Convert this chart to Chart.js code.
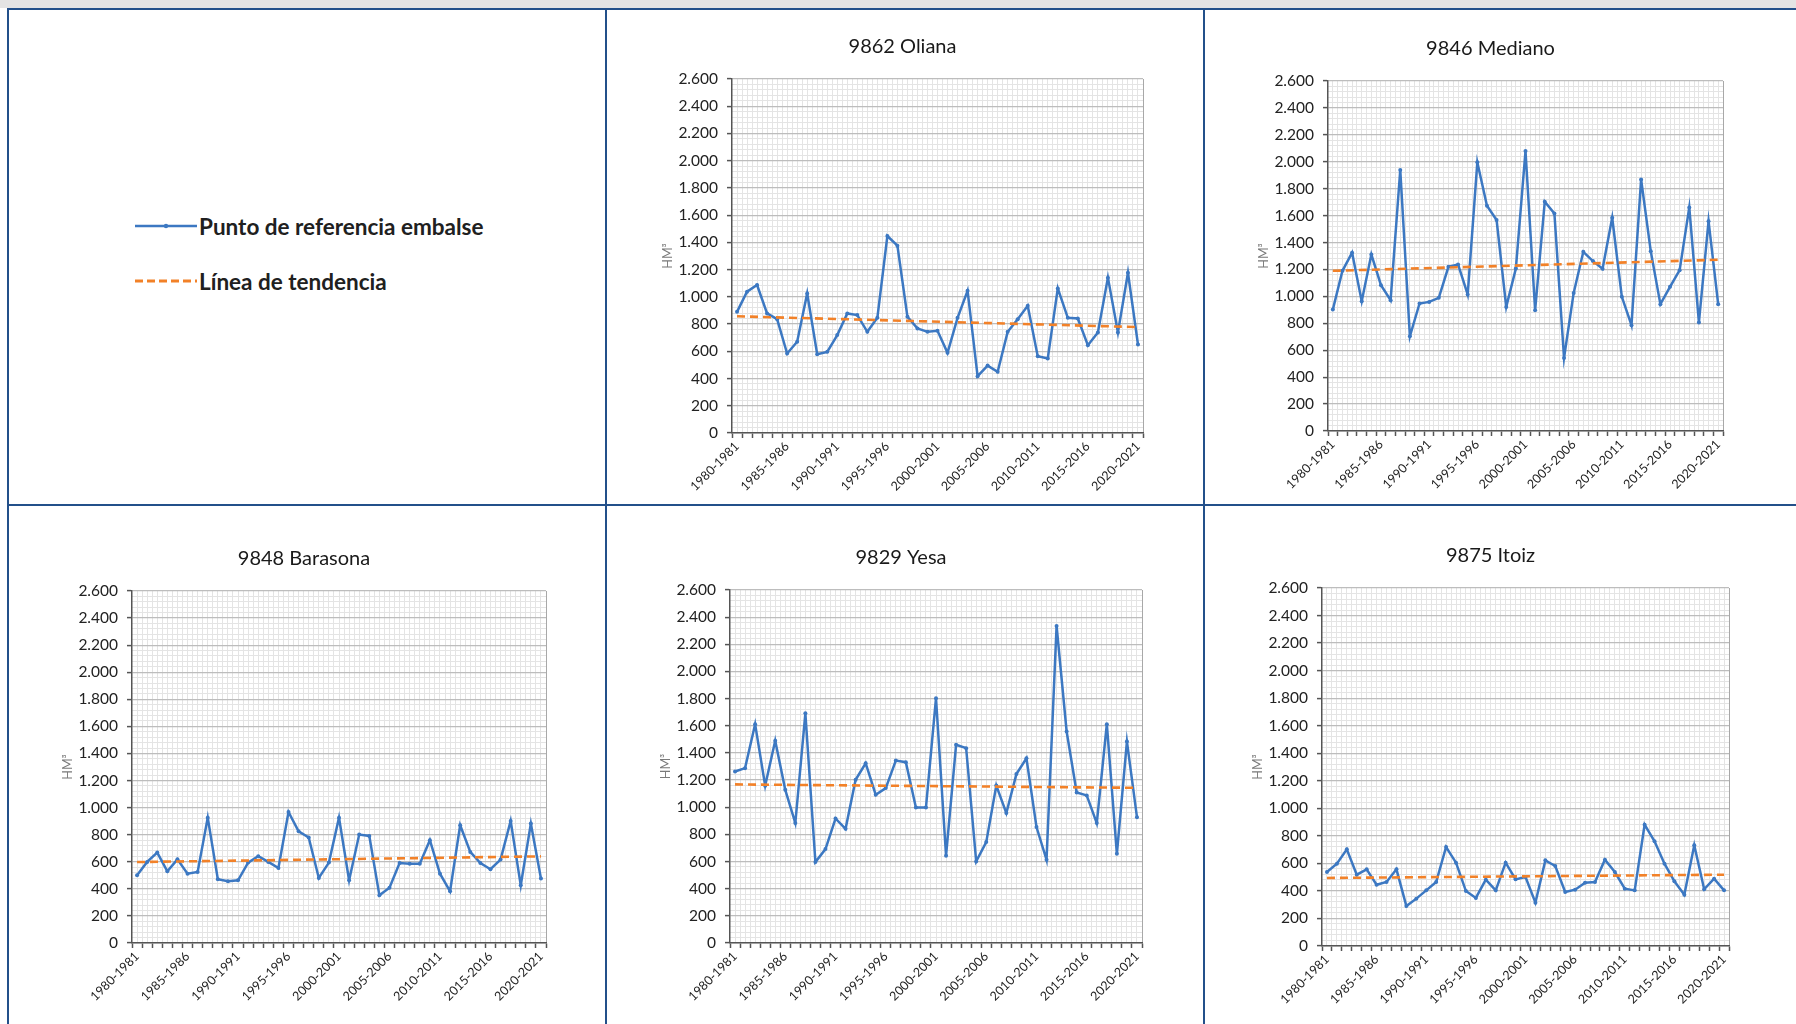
<!DOCTYPE html>
<html lang="es">
<head>
<meta charset="utf-8">
<title>Aportaciones embalses</title>
<script src="https://cdn.jsdelivr.net/npm/chart.js@4"></script>
<style>
  html, body { margin: 0; padding: 0; background: #fff; }
  body { width: 1796px; height: 1024px; position: relative; overflow: hidden; font-family: Lato, "Open Sans", sans-serif; }
  .band { position: absolute; left: 0; top: 0; width: 1796px; height: 8px; background: #e4e4e4; }
  .rule { position: absolute; background: #23508a; z-index: 5; }
  canvas.chart { position: absolute; }
  .legend { position: absolute; left: 135px; top: 211px; }
  .legend .item { display: flex; align-items: center; height: 30px; margin-bottom: 25px; }
  .legend svg { width: 62px; height: 12px; margin-right: 2px; }
  .legend span { font-weight: 700; font-size: 22.5px; color: #202020; letter-spacing: 0; }
</style>
</head>
<body>
<div class="band"></div>
<div class="rule" style="left:7px;top:8px;width:1789px;height:2px"></div>
<div class="rule" style="left:7px;top:8px;width:2px;height:1016px"></div>
<div class="rule" style="left:605px;top:8px;width:2px;height:1016px"></div>
<div class="rule" style="left:1203px;top:8px;width:2px;height:1016px"></div>
<div class="rule" style="left:7px;top:504px;width:1789px;height:2px"></div>

<div class="legend">
  <div class="item">
    <svg viewBox="0 0 62 12"><line x1="0" y1="6" x2="62" y2="6" stroke="#3c78c2" stroke-width="2.5"/><circle cx="31" cy="6" r="2.2" fill="#3c78c2"/></svg>
    <span>Punto de referencia embalse</span>
  </div>
  <div class="item">
    <svg viewBox="0 0 62 12"><line x1="0" y1="6" x2="62" y2="6" stroke="#f28128" stroke-width="3" stroke-dasharray="8,4"/></svg>
    <span>Línea de tendencia</span>
  </div>
</div>

<canvas class="chart" id="oliana"></canvas>
<canvas class="chart" id="mediano"></canvas>
<canvas class="chart" id="barasona"></canvas>
<canvas class="chart" id="yesa"></canvas>
<canvas class="chart" id="itoiz"></canvas>

<script>
const $ = (id) => document.getElementById(id);

// hydrological years on the x axis
const seasons = [
  "1980-1981", "1981-1982", "1982-1983", "1983-1984", "1984-1985", "1985-1986", "1986-1987",
  "1987-1988", "1988-1989", "1989-1990", "1990-1991", "1991-1992", "1992-1993", "1993-1994",
  "1994-1995", "1995-1996", "1996-1997", "1997-1998", "1998-1999", "1999-2000", "2000-2001",
  "2001-2002", "2002-2003", "2003-2004", "2004-2005", "2005-2006", "2006-2007", "2007-2008",
  "2008-2009", "2009-2010", "2010-2011", "2011-2012", "2012-2013", "2013-2014", "2014-2015",
  "2015-2016", "2016-2017", "2017-2018", "2018-2019", "2019-2020", "2020-2021",
];
const shownSeasons = ["1980-1981", "1985-1986", "1990-1991", "1995-1996", "2000-2001", "2005-2006", "2010-2011", "2015-2016", "2020-2021"];

// HM3 per year
const oliana = [890, 1038, 1087, 878, 836, 584, 670, 1025, 579, 596, 719, 878, 866, 743, 846, 1447, 1376, 854, 768, 743, 751,
  589, 846, 1045, 417, 495, 449, 743, 836, 935, 564, 547, 1062, 846, 841, 645, 738, 1141, 738, 1177, 650];
const mediano = [902, 1190, 1324, 964, 1311, 1083, 972, 1939, 704, 947, 959, 989, 1220, 1237, 1014, 1996, 1673, 1567, 922, 1207, 2080,
  897, 1703, 1616, 543, 1026, 1331, 1262, 1205, 1584, 997, 786, 1869, 1336, 942, 1071, 1195, 1661, 806, 1559, 942];
const barasona = [500, 599, 668, 530, 618, 512, 525, 926, 471, 456, 463, 594, 641, 599, 554, 968, 825, 779, 480, 594, 926,
  463, 801, 791, 352, 409, 591, 586, 586, 759, 512, 382, 870, 673, 591, 545, 616, 902, 426, 882, 476];
const yesa = [1263, 1288, 1612, 1158, 1489, 1128, 883, 1692, 596, 692, 917, 841, 1202, 1324, 1092, 1141, 1344, 1332, 998, 998, 1803,
  643, 1460, 1435, 601, 743, 1160, 957, 1244, 1361, 854, 613, 2335, 1558, 1109, 1087, 883, 1612, 657, 1484, 927];
const itoiz = [537, 598, 702, 518, 557, 445, 465, 557, 290, 344, 404, 465, 719, 605, 399, 349, 482, 404, 605, 484, 501,
  315, 622, 581, 392, 409, 460, 465, 627, 537, 416, 404, 881, 760, 598, 470, 373, 731, 412, 489, 404];

// trend line ends [first season, last season]
const olianaTrend = [857, 778];
const medianoTrend = [1190, 1272];
const barasonaTrend = [598, 640];
const yesaTrend = [1168, 1143];
const itoizTrend = [494, 518];

const yTicksMax = 2600;
const yTickStep = 200;

// where each plot area sits on the page: [left, top, right, bottom], and the title centre x
const charts = [
  { id: "oliana", title: "9862 Oliana", values: oliana, trend: olianaTrend, plot: [732, 79, 1143, 433], titleX: 907 },
  { id: "mediano", title: "9846 Mediano", values: mediano, trend: medianoTrend, plot: [1328, 81, 1723, 431], titleX: 1507 },
  { id: "barasona", title: "9848 Barasona", values: barasona, trend: barasonaTrend, plot: [132, 591, 546, 943], titleX: 320 },
  { id: "yesa", title: "9829 Yesa", values: yesa, trend: yesaTrend, plot: [730, 590, 1142, 943], titleX: 907 },
  { id: "itoiz", title: "9875 Itoiz", values: itoiz, trend: itoizTrend, plot: [1322, 588, 1729, 946], titleX: 1497 },
];

const AXIS_W = 70;
const TOP_H = 60;
const BOTTOM_H = 70;
const BLUE = "#3c78c2";
const ORANGE = "#f28128";
const AXIS = "#555555";

Chart.defaults.font.family = 'Lato, "Open Sans", sans-serif';
Chart.defaults.color = "#222222";

function fmtThousands(v) {
  return String(v).replace(/\B(?=(\d{3})+(?!\d))/g, ".");
}

function buildChart(c) {
  const [pl, pt, pr, pb] = c.plot;
  const cv = $(c.id);
  const left = pl - AXIS_W;
  const top = pt - TOP_H;
  const width = Math.round(2 * (c.titleX - left));
  const height = TOP_H + (pb - pt) + BOTTOM_H + 2;
  cv.width = width;
  cv.height = height;
  cv.style.left = left + "px";
  cv.style.top = top + "px";
  const padRight = width - AXIS_W - (pr - pl);
  const last = seasons.length - 1;

  return new Chart(cv, {
    type: "line",
    data: {
      labels: seasons,
      datasets: [
        {
          label: "Línea de tendencia",
          data: [{ x: seasons[0], y: c.trend[0] }, { x: seasons[last], y: c.trend[1] }],
          borderColor: ORANGE,
          backgroundColor: ORANGE,
          borderWidth: 2.6,
          borderDash: [8, 5],
          pointRadius: 0,
          order: 0,
          xAxisID: "x",
          yAxisID: "y",
        },
        {
          label: "Punto de referencia embalse",
          data: c.values,
          borderColor: BLUE,
          backgroundColor: BLUE,
          borderWidth: 2.5,
          pointRadius: 2,
          pointBorderWidth: 0,
          tension: 0,
          order: 1,
          xAxisID: "x",
          yAxisID: "y",
        },
      ],
    },
    options: {
      responsive: false,
      animation: false,
      devicePixelRatio: 1,
      layout: { padding: { left: 0, top: 0, right: padRight, bottom: 2 } },
      plugins: {
        legend: { display: false },
        tooltip: { enabled: false },
        title: {
          display: true,
          text: c.title,
          color: "#1a1a1a",
          font: { size: 20, weight: "normal", lineHeight: 1.2 },
          padding: { top: 15.5, bottom: 20.5 },
        },
      },
      scales: {
        x: {
          type: "category",
          offset: true,
          grid: { offset: true, drawOnChartArea: false, drawTicks: true, tickLength: 5, tickColor: AXIS, tickWidth: 1.5 },
          border: { color: AXIS, width: 1.5 },
          ticks: {
            autoSkip: false,
            maxRotation: 45,
            minRotation: 45,
            padding: 1,
            color: "#222222",
            font: { size: 12.5 },
            callback: (v, i) => (shownSeasons.includes(seasons[i]) ? seasons[i] : ""),
          },
          afterFit: (s) => { s.height = BOTTOM_H; },
        },
        xg: {
          type: "linear",
          position: "bottom",
          min: -0.5,
          max: last + 0.5,
          ticks: { display: false, stepSize: 0.5 },
          border: { display: false },
          grid: {
            z: -1,
            drawTicks: false,
            lineWidth: 1,
            color: (ctx) => {
              const v = ctx.tick ? ctx.tick.value : 0;
              if (v <= -0.5) return "rgba(0,0,0,0)";
              if (v >= last + 0.5) return "#a8a8a8";
              return "#e4e4e4";
            },
          },
        },
        y: {
          min: 0,
          max: yTicksMax,
          ticks: { stepSize: yTickStep, padding: 9, color: "#222222", font: { size: 15.5 }, callback: (v) => fmtThousands(v) },
          grid: { color: "#bdbdbd", lineWidth: 1.2, tickLength: 5, tickColor: AXIS, tickWidth: 1.5 },
          border: { color: AXIS, width: 1.5 },
          title: { display: true, text: "HM³", color: "#7a7a7a", font: { size: 12.5, lineHeight: 1 }, padding: { top: 0, bottom: 0 } },
          afterFit: (s) => { s.width = AXIS_W; },
        },
        yg: {
          type: "linear",
          position: "left",
          min: 0,
          max: yTicksMax,
          ticks: { display: false, stepSize: 40 },
          border: { display: false },
          grid: {
            z: -1,
            drawTicks: false,
            color: (ctx) => {
              const v = ctx.tick ? ctx.tick.value : 0;
              return v % yTickStep === 0 ? "rgba(0,0,0,0)" : "#e4e4e4";
            },
          },
        },
      },
    },
  });
}

for (const c of charts) buildChart(c);
</script>
</body>
</html>
